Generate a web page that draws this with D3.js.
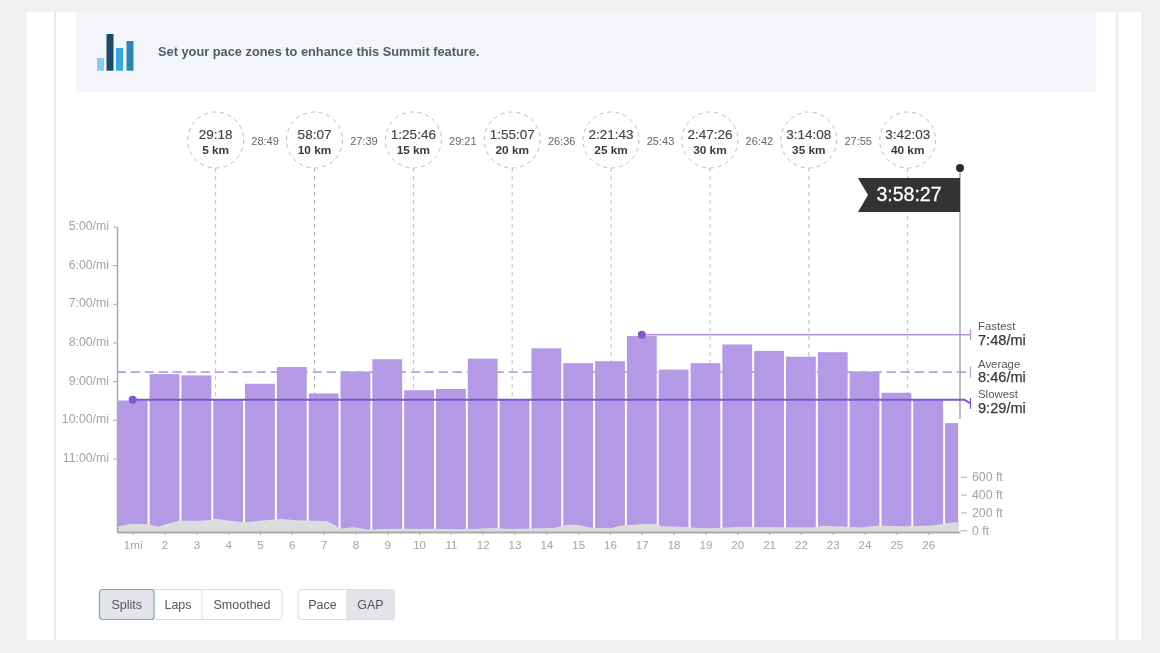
<!DOCTYPE html>
<html>
<head>
<meta charset="utf-8">
<title>Pace splits</title>
<script src="https://d3js.org/d3.v7.min.js"></script>
<style>
html, body { margin: 0; padding: 0; background: #f0f0f0; overflow: hidden; }
svg { display: block; filter: blur(0.35px); }
text { font-family: "Liberation Sans", Arial, sans-serif; }
.axis path, .axis line { stroke: #aaa; }
.axis text { fill: #a3a3a3; font-size: 12.3px; font-family: "Liberation Sans", Arial, sans-serif; }
.xaxis text { font-size: 11.6px; }
</style>
</head>
<body>
<script>
// values
var paces = ["9:30","8:49","8:51","9:29","9:04","8:38","9:19","8:45","8:26","9:14","9:12","8:25","9:28",
             "8:09","8:32","8:29","7:50","8:42","8:32","8:03","8:13","8:22","8:15","8:45","9:18","9:28","10:05"];
var lastMile = 26.47;
var paceTicks = ["5:00","6:00","7:00","8:00","9:00","10:00","11:00"];
var mileLabels = ["1mi","2","3","4","5","6","7","8","9","10","11","12","13","14","15","16","17","18","19","20","21","22","23","24","25","26"];

var elevMiles = [0,0.41,0.94,1.31,1.57,1.99,2.51,2.93,3.09,3.56,4.03,4.5,5.13,5.55,6.07,6.6,6.8,7.01,7.43,7.96,8.27,9.31,11,11.83,12.46,
                 13.3,13.71,14.19,14.45,14.92,15.55,15.8,16.45,16.92,17.13,17.9,18.33,18.96,19.6,20.6,21.9,22.2,22.95,23.36,23.9,24.8,25.65,26.07,26.33,26.47];
var elevFeet = [41,71,70,41,71,111,104,115,130,108,89,108,126,115,108,104,71,18,33,7,15,18,11,26,15,
                22,26,63,63,29,22,52,67,74,45,37,22,26,41,33,30,52,41,30,52,45,55,78,89,78];
var elevTicks = [0,200,400,600];

var splitKm = [5,10,15,20,25,30,35,40];
var splitTimes = ["29:18","58:07","1:25:46","1:55:07","2:21:43","2:47:26","3:14:08","3:42:03"];
var lapTimes = ["28:49","27:39","29:21","26:36","25:43","26:42","27:55"];
var finishTime = "3:58:27";

var refNames = ["Fastest","Average","Slowest"];
var refPaces = ["7:48","8:46","9:29"];
var refMiles = [16.5,0,0.5];

var chartButtons = ["Splits","Laps","Smoothed"];
var modeButtons = ["Pace","GAP"];

function toSec(s) { var p = s.split(":"); return +p[0] * 60 + +p[1]; }

var svg = d3.select("body").append("svg").attr("width", 1160).attr("height", 653);

// page background pieces
svg.append("rect").attr("x", 26.5).attr("y", 12).attr("width", 1114.5).attr("height", 628).attr("fill", "#fff");
svg.append("rect").attr("x", 54.5).attr("y", 12).attr("width", 1.5).attr("height", 628).attr("fill", "#e4e4e4");
svg.append("rect").attr("x", 1116.5).attr("y", 12).attr("width", 1.5).attr("height", 628).attr("fill", "#e4e4e4");
svg.append("rect").attr("x", 76).attr("y", 12).attr("width", 1020).attr("height", 80).attr("fill", "#f4f4fb");

// banner icon
var icon = [[97,58,"#7fd0ee"],[106.5,34,"#1a4a68"],[116,48,"#35a8e0"],[126.5,41,"#2e86b5"]];
svg.selectAll(".icon").data(icon).enter().append("rect")
    .attr("x", function(d) { return d[0]; })
    .attr("y", function(d) { return d[1]; })
    .attr("width", 7)
    .attr("height", function(d) { return 70.7 - d[1]; })
    .attr("fill", function(d) { return d[2]; });
svg.append("text").attr("x", 158).attr("y", 56)
    .attr("font-size", "12.8px").attr("font-weight", "bold").attr("fill", "#555b66")
    .text("Set your pace zones to enhance this Summit feature.");

// scales
var baseY = 532;
var x = d3.scaleLinear().domain([0, 26.5]).range([116.8, 960]);
var y = d3.scaleLinear().domain([300, 774]).range([226.5, baseY]);
var yElev = d3.scaleLinear().domain([0, 600]).range([530.3, 476.7]);

// km split markers
var km = splitKm.map(function(d) { return d / 1.609344; });
var splitG = svg.selectAll(".split").data(km).enter().append("g")
    .attr("transform", function(d) { return "translate(" + x(d) + ",140)"; });
splitG.append("line").attr("y1", 28).attr("y2", baseY - 140 - 2)
    .attr("stroke", "#bdbdbd").attr("stroke-dasharray", "4 4");
splitG.append("circle").attr("r", 28).attr("fill", "#fff")
    .attr("stroke", "#bdbdbd").attr("stroke-dasharray", "4 4");
splitG.append("text").attr("text-anchor", "middle").attr("y", -1)
    .attr("font-size", "13.5px").attr("fill", "#444").attr("stroke", "#444").attr("stroke-width", 0.15)
    .text(function(d, i) { return splitTimes[i]; });
splitG.append("text").attr("text-anchor", "middle").attr("y", 14)
    .attr("font-size", "11.8px").attr("font-weight", "bold").attr("fill", "#3a3a3a")
    .text(function(d, i) { return splitKm[i] + " km"; });

svg.selectAll(".lap").data(lapTimes).enter().append("text")
    .attr("text-anchor", "middle")
    .attr("x", function(d, i) { return (x(km[i]) + x(km[i + 1])) / 2; })
    .attr("y", 145)
    .attr("font-size", "11px").attr("fill", "#666")
    .text(function(d) { return d; });

// bars
svg.selectAll(".bar").data(paces).enter().append("rect")
    .attr("class", "bar")
    .attr("x", function(d, i) { return x(i) + 1; })
    .attr("width", function(d, i) { return x(Math.min(i + 1, lastMile)) - x(i) - 2; })
    .attr("y", function(d) { return y(toSec(d)); })
    .attr("height", function(d) { return baseY - y(toSec(d)); })
    .attr("fill", "#b49ae6");

// elevation
var area = d3.area()
    .x(function(d, i) { return x(elevMiles[i]); })
    .y0(baseY)
    .y1(function(d) { return yElev(d); });
svg.append("path").datum(elevFeet).attr("d", area).attr("fill", "#dcdcdc");

// axes
var yAxis = svg.append("g").attr("class", "axis")
    .attr("transform", "translate(117,0)")
    .call(d3.axisLeft(y).tickValues(paceTicks.map(toSec)).tickSize(4).tickSizeOuter(0).tickPadding(4)
        .tickFormat(function(d, i) { return paceTicks[i] + "/mi"; }));
yAxis.select(".domain").attr("stroke-width", 1.5);
yAxis.selectAll("text").attr("y", -1);

var xAxis = svg.append("g").attr("class", "axis xaxis")
    .attr("transform", "translate(0," + baseY + ")")
    .call(d3.axisBottom(x).tickValues(mileLabels.map(function(d, i) { return i + 0.5; }))
        .tickSize(3).tickSizeOuter(0).tickPadding(6)
        .tickFormat(function(d, i) { return mileLabels[i]; }));
xAxis.select(".domain").attr("stroke-width", 2);

var elevAxis = svg.append("g").attr("class", "axis")
    .attr("transform", "translate(961,0)")
    .call(d3.axisRight(yElev).tickValues(elevTicks).tickSize(6).tickPadding(5)
        .tickFormat(function(d) { return d + " ft"; }));
elevAxis.select(".domain").remove();

// finish flag
var poleX = x(26.5);
svg.append("line").attr("x1", poleX).attr("x2", poleX).attr("y1", 168).attr("y2", 419)
    .attr("stroke", "#a8a8a8").attr("stroke-width", 1.5);
svg.append("circle").attr("cx", poleX).attr("cy", 168).attr("r", 4).attr("fill", "#2b2b2b");
svg.append("path")
    .attr("d", "M" + poleX + ",178H858L868,195L858,212H" + poleX + "Z")
    .attr("fill", "#333");
svg.append("text").attr("x", 909).attr("y", 201).attr("text-anchor", "middle")
    .attr("font-size", "19.5px").attr("fill", "#fff").attr("stroke", "#fff").attr("stroke-width", 0.3)
    .text(finishTime);

// fastest / average / slowest
var lineColors = ["#b193e0", "#b89ce0", "#7e57c9"];
var endX = 970.5;
var labelY = [330, 368, 398];
var valueY = [344.5, 381.5, 412.5];
var tickShift = [0, 0, 3.5];

refNames.forEach(function(name, i) {
    var ly = y(toSec(refPaces[i]));
    var g = svg.append("g");
    g.append("path")
        .attr("d", "M" + x(refMiles[i]) + "," + ly + "H" + (endX - 6) + "L" + endX + "," + (ly + tickShift[i]))
        .attr("fill", "none")
        .attr("stroke", lineColors[i])
        .attr("stroke-width", i === 2 ? 2 : 1.6)
        .attr("stroke-dasharray", i === 1 ? "9 5" : null);
    g.append("line").attr("x1", endX).attr("x2", endX)
        .attr("y1", ly + tickShift[i] - 5.5).attr("y2", ly + tickShift[i] + 5.5)
        .attr("stroke", lineColors[i]).attr("stroke-width", 1.2);
    if (i !== 1) {
        g.append("circle").attr("cx", x(refMiles[i])).attr("cy", ly).attr("r", 4).attr("fill", "#8257cf");
    }
    g.append("text").attr("x", 978).attr("y", labelY[i])
        .attr("font-size", "11.4px").attr("fill", "#555").text(name);
    g.append("text").attr("x", 978).attr("y", valueY[i])
        .attr("font-size", "14.6px").attr("fill", "#3a3a3a").attr("stroke", "#3a3a3a").attr("stroke-width", 0.25)
        .text(refPaces[i] + "/mi");
});

// buttons
function buttonGroup(labels, edges, activeIndex, activeStroke) {
    var g = svg.append("g");
    g.append("rect").attr("x", edges[0]).attr("y", 589.5)
        .attr("width", edges[edges.length - 1] - edges[0]).attr("height", 30).attr("rx", 4)
        .attr("fill", "#fff").attr("stroke", "#dcdcdc").attr("stroke-width", 1.2);
    labels.forEach(function(label, i) {
        if (i === activeIndex) {
            g.append("rect").attr("x", edges[i]).attr("y", 589.5)
                .attr("width", edges[i + 1] - edges[i]).attr("height", 30).attr("rx", 3)
                .attr("fill", "#e4e5ec").attr("stroke", activeStroke).attr("stroke-width", 1.2);
        } else if (i > 0 && i - 1 !== activeIndex) {
            g.append("line").attr("x1", edges[i]).attr("x2", edges[i]).attr("y1", 589.5).attr("y2", 619.5)
                .attr("stroke", "#dcdcdc");
        }
        g.append("text").attr("x", (edges[i] + edges[i + 1]) / 2).attr("y", 608.5)
            .attr("text-anchor", "middle").attr("font-size", "12.5px").attr("fill", "#555")
            .text(label);
    });
}
buttonGroup(chartButtons, [99.5, 154, 202, 282], 0, "#6fa9c6");
buttonGroup(modeButtons, [298, 347, 394], 1, "#dcdcdc");
</script>
</body>
</html>
